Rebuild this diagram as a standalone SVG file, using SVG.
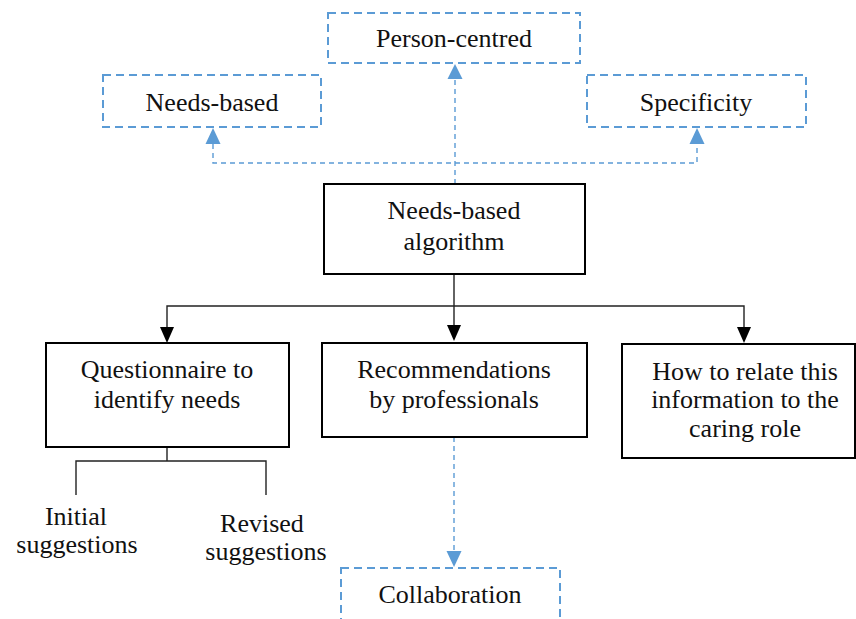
<svg xmlns="http://www.w3.org/2000/svg" width="856" height="619" viewBox="0 0 856 619">
  <style>
    text { font-family: "Liberation Serif", "Times New Roman", serif; font-size: 26px; fill: #111; text-anchor: middle; }
    .solid { fill: #fff; stroke: #000; stroke-width: 2; }
    .dash { fill: #fff; stroke: #5B9BD5; stroke-width: 2; stroke-dasharray: 8 5; }
    .line { fill: none; stroke: #222; stroke-width: 1.4; }
    .bline { fill: none; stroke: #5B9BD5; stroke-width: 1.4; stroke-dasharray: 5 4; }
    .bhead { fill: #5B9BD5; }
    .khead { fill: #000; }
  </style>

  <!-- connectors -->
  <g id="connectors">
    <!-- dashed links up to the three qualities -->
    <path class="bline" d="M455,184 V79"/>
    <path class="bhead" d="M447.5,79 L462.5,79 L455,64 Z"/>
    <path class="bline" d="M213,144 V163 H697 V144"/>
    <path class="bhead" d="M205.5,144 L220.5,144 L213,128 Z"/>
    <path class="bhead" d="M689.5,144 L704.5,144 L697,128 Z"/>
    <!-- dashed link down to collaboration -->
    <path class="bline" d="M454,437 V551"/>
    <path class="bhead" d="M446.5,551 L461.5,551 L454,567 Z"/>
    <!-- solid tree below the algorithm -->
    <path class="line" d="M454,274 V328"/>
    <path class="line" d="M167,328 V306 H744 V328"/>
    <path class="khead" d="M160,327 L174,327 L167,343 Z"/>
    <path class="khead" d="M447,325 L461,325 L454,341 Z"/>
    <path class="khead" d="M737,327 L751,327 L744,343 Z"/>
    <!-- split below the questionnaire -->
    <path class="line" d="M167,447 V461"/>
    <path class="line" d="M76,495 V461 H266 V495"/>
  </g>

  <g id="person-centred">
    <rect class="dash" x="328" y="13" width="252" height="50"/>
    <text x="454" y="47">Person-centred</text>
  </g>

  <g id="needs-based">
    <rect class="dash" x="103" y="75" width="218" height="52"/>
    <text x="212" y="111">Needs-based</text>
  </g>

  <g id="specificity">
    <rect class="dash" x="587" y="75" width="219" height="52"/>
    <text x="696" y="111">Specificity</text>
  </g>

  <g id="algorithm">
    <rect class="solid" x="324" y="184" width="261" height="90"/>
    <text x="454" y="219">Needs-based</text>
    <text x="454" y="250">algorithm</text>
  </g>

  <g id="questionnaire">
    <rect class="solid" x="46" y="343" width="243" height="104"/>
    <text x="167" y="378">Questionnaire to</text>
    <text x="167" y="408">identify needs</text>
  </g>

  <g id="recommendations">
    <rect class="solid" x="322" y="343" width="265" height="94"/>
    <text x="454" y="378">Recommendations</text>
    <text x="454" y="408">by professionals</text>
  </g>

  <g id="caring-role">
    <rect class="solid" x="622" y="344" width="233" height="114"/>
    <text x="745" y="380">How to relate this</text>
    <text x="745" y="408">information to the</text>
    <text x="745" y="437">caring role</text>
  </g>

  <g id="initial-suggestions">
    <text x="76" y="525">Initial</text>
    <text x="77" y="553">suggestions</text>
  </g>

  <g id="revised-suggestions">
    <text x="262" y="532">Revised</text>
    <text x="266" y="560">suggestions</text>
  </g>

  <g id="collaboration">
    <rect class="dash" x="341" y="568" width="219" height="70"/>
    <text x="450" y="603">Collaboration</text>
  </g>
</svg>
